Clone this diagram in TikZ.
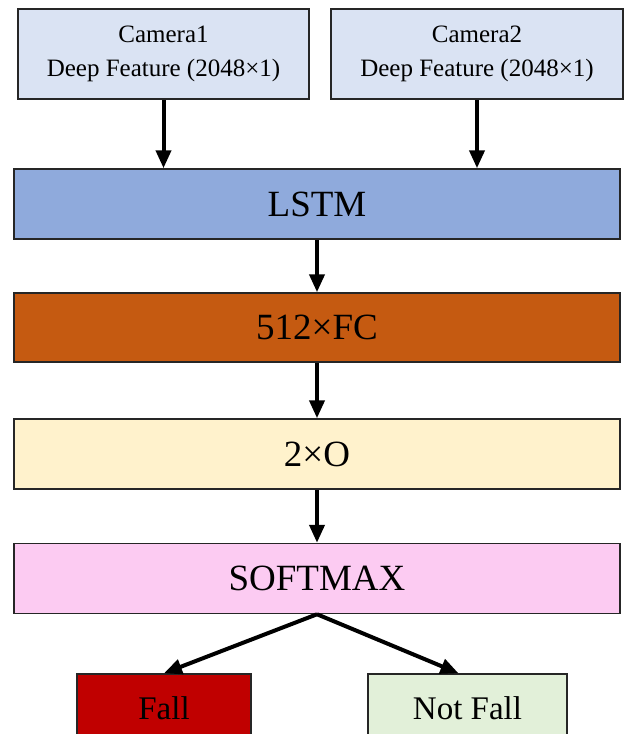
\documentclass[tikz,border=0pt]{standalone}
\usepackage{fontspec}
\setmainfont{Liberation Serif}
\usetikzlibrary{arrows.meta,calc}

\definecolor{camfill}{HTML}{DAE3F3}
\definecolor{lstmfill}{HTML}{8FAADC}
\definecolor{fcfill}{HTML}{C55A11}
\definecolor{outfill}{HTML}{FFF2CC}
\definecolor{smfill}{HTML}{FCCBF2}
\definecolor{fallfill}{HTML}{C00000}
\definecolor{nofallfill}{HTML}{E2F0D9}

\tikzset{
  blk/.style={draw=black!85, line width=1.5pt, rectangle, inner sep=0pt,
              align=center, text=black},
  cambox/.style={blk, fill=camfill, minimum width=291pt, minimum height=90pt,
                 font=\fontsize{25}{34}\selectfont},
  layer/.style={blk, minimum width=606pt, minimum height=70pt,
                font=\fontsize{37}{40}\selectfont},
  outbox/.style={blk, minimum height=68pt, font=\fontsize{33}{36}\selectfont},
  flow/.style={line width=4pt, -{Triangle[length=18pt,width=15pt]}}
}

\begin{document}
\begin{tikzpicture}[x=1pt,y=-1pt]
  \clip (0,0) rectangle (624,734);
  \fill[white] (0,0) rectangle (624,734);

  % inputs
  \node[cambox] (cam1) at (163.5,54) {Camera1\\Deep Feature (2048×1)};
  \node[cambox, minimum width=292pt] (cam2) at (477,54) {Camera2\\Deep Feature (2048×1)};

  % network layers
  \node[layer, fill=lstmfill] (lstm) at (317,204) {LSTM};
  \node[layer, fill=fcfill, minimum height=69pt] (fc) at (317,327.5) {512×FC};
  \node[layer, fill=outfill] (out) at (317,454) {2×O};
  \node[layer, fill=smfill] (soft) at (317,578.5) {SOFTMAX};

  % decisions
  \node[outbox, fill=fallfill, minimum width=174pt] (fall) at (164,708) {Fall};
  \node[outbox, fill=nofallfill, minimum width=199pt] (nofall) at (467.5,708) {Not Fall};

  % connectors
  \coordinate (nofallin) at ($(nofall.north)+(-9,0)$);
  \draw[flow] (cam1.south) -- (cam1.south |- lstm.north);
  \draw[flow] (cam2.south) -- (cam2.south |- lstm.north);
  \draw[flow] (lstm.south) -- (fc.north);
  \draw[flow] (fc.south) -- (out.north);
  \draw[flow] (out.south) -- (soft.north);
  \draw[flow] (soft.south) -- (fall.north);
  \draw[flow] (soft.south) -- (nofallin);
\end{tikzpicture}
\end{document}
